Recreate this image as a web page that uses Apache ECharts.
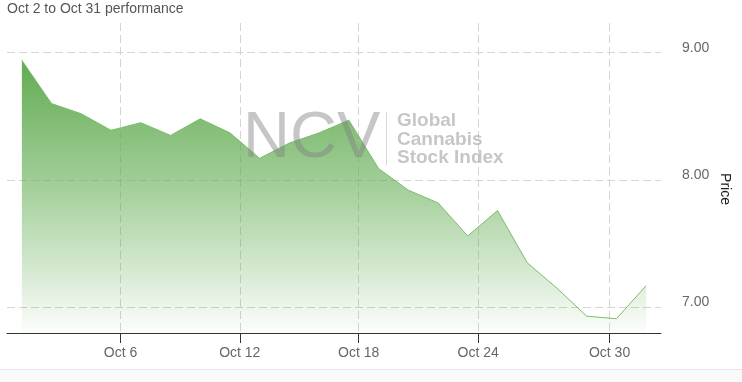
<!DOCTYPE html>
<html><head><meta charset="utf-8">
<script src="https://cdn.jsdelivr.net/npm/echarts@6/dist/echarts.min.js"></script>
<style>html,body{margin:0;padding:0;background:#fff}#c{width:742px;height:382px}</style>
</head><body><div id="c"></div>
<script>
// Daily closing prices (trading days, Oct 2 – Oct 31)
const prices = [8.94, 8.60, 8.52, 8.39, 8.45, 8.35, 8.48, 8.37, 8.17, 8.29, 8.37, 8.47, 8.09, 7.92, 7.82, 7.56, 7.76, 7.35, 7.15, 6.93, 6.91, 7.17];
// x-axis date labels and their (ordinal) positions among the trading days
const tickLabels = ["Oct 6", "Oct 12", "Oct 18", "Oct 24", "Oct 30"];
const tickIndex = [3.32, 7.33, 11.33, 15.35, 19.77];
// y-axis ticks
const yTicks = [7, 8, 9];

const FONT = "'Liberation Sans', Arial, sans-serif";
const chart = echarts.init(document.getElementById('c'), null, {renderer: 'canvas'});
const wm = 'rgba(128,128,128,0.45)';
chart.setOption({
  animation: false,
  grid: {left: 7, right: 81, top: 23, bottom: 49},
  xAxis: {
    type: 'value', min: -0.5, max: 21.5,
    axisLine: {show: true, onZero: false, lineStyle: {color: '#333', width: 1}},
    axisTick: {show: true, length: 10, customValues: tickIndex, lineStyle: {color: '#333'}},
    axisLabel: {
      customValues: tickIndex, color: '#666', fontSize: 14, fontFamily: FONT, margin: 13,
      formatter: function (v) {
        let best = 0;
        tickIndex.forEach((t, i) => { if (Math.abs(t - v) < Math.abs(tickIndex[best] - v)) best = i; });
        return tickLabels[best];
      }
    },
    splitLine: {show: true, lineStyle: {type: [8, 4], color: '#d4d4d4', width: 1}}
  },
  yAxis: {
    type: 'value', position: 'right', min: 6.798, max: 9.233,
    axisLine: {show: false},
    axisTick: {show: false, customValues: yTicks},
    axisLabel: {customValues: yTicks, formatter: v => v.toFixed(2), color: '#666', fontSize: 14, fontFamily: FONT, margin: 21, verticalAlign: 'bottom', lineHeight: 10},
    splitLine: {show: true, lineStyle: {type: [8, 4], color: '#d4d4d4', width: 1}}
  },
  series: [{
    type: 'line',
    data: prices.map((v, i) => [i, v]),
    showSymbol: false,
    lineStyle: {color: '#7dbb6c', width: 1},
    areaStyle: {
      origin: 'start',
      opacity: 1,
      color: new echarts.graphic.LinearGradient(0, 0, 0, 1, [
        {offset: 0, color: 'rgba(98,172,82,1)'},
        {offset: 0.5, color: 'rgba(98,172,82,0.55)'},
        {offset: 1, color: 'rgba(98,172,82,0.02)'}
      ])
    }
  }],
  graphic: [
    {type: 'text', x: 7, y: 9, style: {text: 'Oct 2 to Oct 31 performance', font: '14px ' + FONT, fill: '#555', verticalAlign: 'middle'}},
    {type: 'text', x: 725, y: 189, rotation: -Math.PI / 2, style: {text: 'Price', font: '14px ' + FONT, fill: '#222', align: 'center', verticalAlign: 'middle'}},
    {type: 'text', x: 243, y: 139, z: 100, style: {text: 'NCV', font: '65px ' + FONT, fill: wm, verticalAlign: 'middle'}},
    {type: 'line', z: 100, shape: {x1: 386.5, y1: 112, x2: 386.5, y2: 165}, style: {stroke: 'rgba(128,128,128,0.3)', lineWidth: 1}},
    {type: 'text', x: 397, y: 121.2, z: 100, style: {text: 'Global', font: 'bold 19px ' + FONT, fill: wm, verticalAlign: 'middle'}},
    {type: 'text', x: 397, y: 139.5, z: 100, style: {text: 'Cannabis', font: 'bold 19px ' + FONT, fill: wm, verticalAlign: 'middle'}},
    {type: 'text', x: 397, y: 157.9, z: 100, style: {text: 'Stock Index', font: 'bold 19px ' + FONT, fill: wm, verticalAlign: 'middle'}},
    {type: 'rect', shape: {x: 0, y: 370, width: 742, height: 12}, style: {fill: '#fafafa'}},
    {type: 'line', shape: {x1: 0, y1: 369.5, x2: 742, y2: 369.5}, style: {stroke: '#e6e6e6', lineWidth: 1}}
  ]
});
</script>
</body></html>
